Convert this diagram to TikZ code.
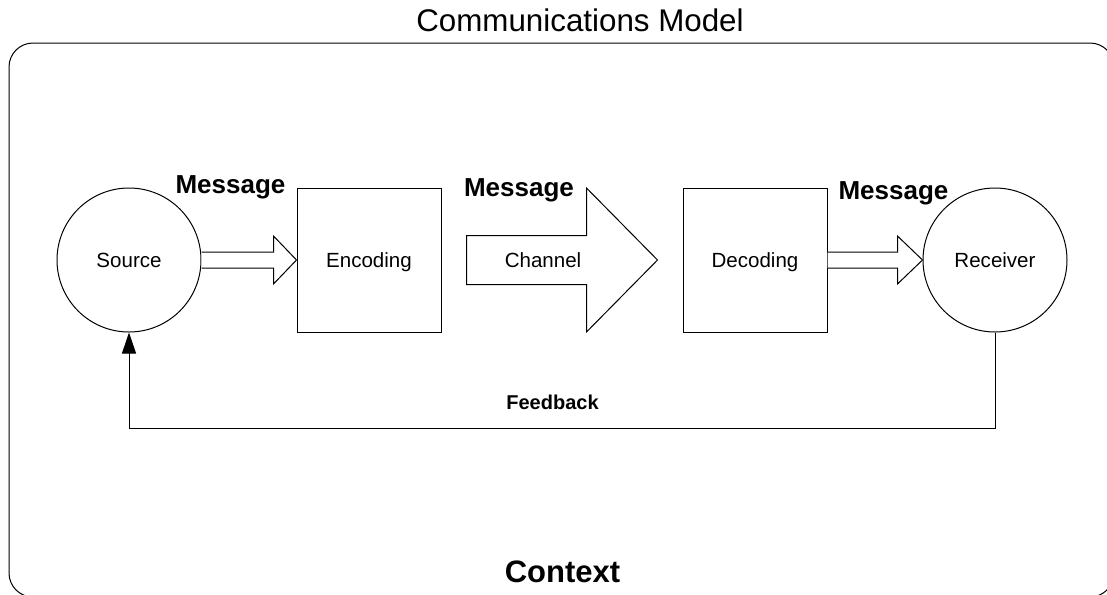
\documentclass[tikz,border=0pt]{standalone}
\usepackage{fontspec}
\setmainfont{Liberation Sans}
\usetikzlibrary{arrows.meta,calc}
\begin{document}
\begin{tikzpicture}[x=0.75pt,y=-0.75pt,
  line width=0.75pt,
  lbl/.style={font=\fontsize{15.4}{18}\selectfont, text height=11pt, text depth=0pt},
  circ/.style={lbl, draw, circle, minimum size=108pt, inner sep=0pt},
  sq/.style={lbl, draw, rectangle, minimum size=108pt, inner sep=0pt},
  msg/.style={font=\fontsize{19.5}{22}\selectfont\bfseries, anchor=base, inner sep=0pt},
  hollow/.style={draw, fill=white, line join=miter},
  fback/.style={-{Triangle[length=15.75pt,width=10.5pt]}}
]
\useasboundingbox (0,0) rectangle (1107,594);
% context frame
\draw[rounded corners=18pt] (9,43) rectangle (1114,597);
\node[font=\fontsize{23.5}{26}\selectfont, anchor=base, inner sep=0pt] (title) at (580,31) {Communications Model};
\node[font=\fontsize{23.25}{26}\selectfont\bfseries, anchor=base, inner sep=0pt] (ctx) at (562.5,582) {Context};

% main nodes
\node[circ] (src) at (129,260) {Source};
\node[sq] (enc) at (369,260) {Encoding};
\node[sq] (dec) at (755,260) {Decoding};
\node[circ] (rcv) at (995,260) {Receiver};

% source -> encoding
\draw[hollow] ($(src.east)+(0,-8)$) -- ($(enc.west)+(-23,-8)$) -- ($(enc.west)+(-23,-24)$)
  -- (enc.west) -- ($(enc.west)+(-23,24)$) -- ($(enc.west)+(-23,8)$) -- ($(src.east)+(0,8)$);

% channel
\coordinate (chL) at ($(enc.east)+(25,0)$);
\coordinate (chT) at ($(dec.west)+(-25,0)$);
\draw[hollow] ($(chL)+(0,-24.5)$) -- ($(chT)+(-71,-24.5)$) -- ($(chT)+(-71,-72)$) -- (chT)
  -- ($(chT)+(-71,72)$) -- ($(chT)+(-71,24.5)$) -- ($(chL)+(0,24.5)$) -- cycle;
\node[lbl] (chan) at (543,260) {Channel};

% decoding -> receiver
\draw[hollow] ($(dec.east)+(0,-8)$) -- ($(rcv.west)+(-25,-8)$) -- ($(rcv.west)+(-25,-24)$)
  -- (rcv.west) -- ($(rcv.west)+(-25,24)$) -- ($(rcv.west)+(-25,8)$) -- ($(dec.east)+(0,8)$);

% message labels
\node[msg] (m1) at (230.5,193) {Message};
\node[msg] (m2) at (519,196) {Message};
\node[msg] (m3) at (893.5,199) {Message};

% feedback
\draw[fback] (rcv.south) -- ++(0,96) -| (src.south);
\node[font=\fontsize{15}{18}\selectfont\bfseries, anchor=base, inner sep=0pt] (fb) at (552.5,409) {Feedback};
\end{tikzpicture}
\end{document}
